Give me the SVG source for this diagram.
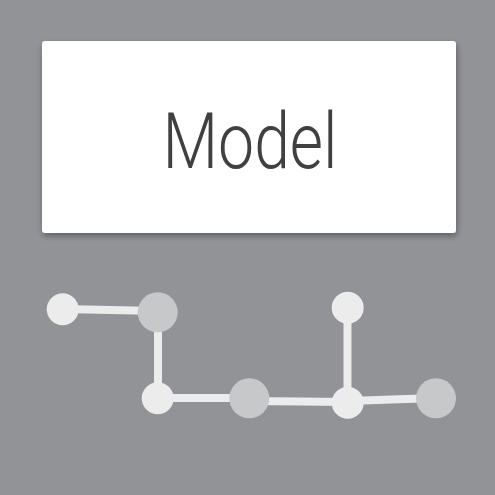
<svg xmlns="http://www.w3.org/2000/svg" width="495" height="495" viewBox="0 0 495 495">
<defs>
<style>
.edge{stroke:#ebeceb;stroke-width:8;fill:none}
.light{fill:#ebeceb}
.dark{fill:#c7c8ca}
.label{font-family:Roboto,"Liberation Sans",sans-serif;font-weight:300;font-size:78px;fill:#404042}
</style>
<filter id="sh" x="-10%" y="-10%" width="120%" height="130%">
<feDropShadow dx="1" dy="3" stdDeviation="3" flood-color="#000" flood-opacity="0.35"/>
</filter>
</defs>
<rect x="0" y="0" width="495" height="495" fill="#929397"/>
<g id="model">
<rect x="42" y="41" width="414" height="192" rx="3" fill="#ffffff" filter="url(#sh)"/>
<text class="label" x="250" y="168" text-anchor="middle" textLength="175" lengthAdjust="spacingAndGlyphs">Model</text>
</g>
<g id="connectors">
<line class="edge" x1="63" y1="309" x2="158" y2="311"/>
<line class="edge" x1="158" y1="312" x2="158" y2="398"/>
<line class="edge" x1="158" y1="398" x2="249" y2="398"/>
<line class="edge" x1="249" y1="401" x2="348" y2="402"/>
<line class="edge" x1="347.5" y1="308" x2="347.5" y2="402"/>
<line class="edge" x1="348" y1="401" x2="436" y2="398"/>
</g>
<g id="node-a"><circle class="light" cx="62.7" cy="309.3" r="16"/></g>
<g id="node-b"><circle class="dark" cx="157.7" cy="312.3" r="20"/></g>
<g id="node-c"><circle class="light" cx="157.7" cy="398.3" r="16"/></g>
<g id="node-d"><circle class="dark" cx="249.3" cy="398.3" r="20"/></g>
<g id="node-e"><circle class="light" cx="347.7" cy="307.7" r="16"/></g>
<g id="node-f"><circle class="light" cx="347.7" cy="402.7" r="16"/></g>
<g id="node-g"><circle class="dark" cx="436" cy="398.3" r="20"/></g>
</svg>
